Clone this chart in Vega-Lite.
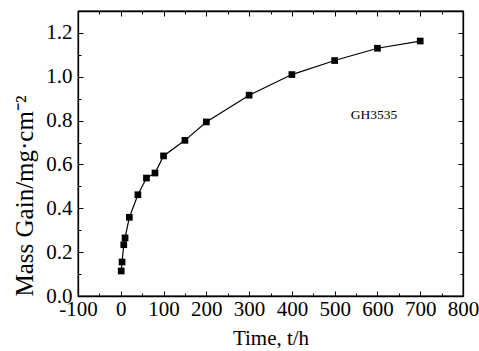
{
  "$schema": "https://vega.github.io/schema/vega-lite/v6.json",
  "width": 385,
  "height": 285,
  "autosize": "none",
  "padding": {"left": 78, "top": 11, "right": 16, "bottom": 55},
  "background": "white",
  "config": {
    "font": "Liberation Serif",
    "view": {"stroke": "black", "strokeWidth": 1.3},
    "axis": {
      "domainColor": "black",
      "domainWidth": 1.3,
      "tickColor": "black",
      "tickWidth": 1,
      "labelColor": "black",
      "labelFont": "Liberation Serif",
      "labelFontSize": 21,
      "titleFont": "Liberation Serif",
      "titleFontSize": 21,
      "titleFontWeight": "normal",
      "titleColor": "black",
      "grid": false,
      "labelOverlap": false,
      "labelFlush": false
    }
  },
  "data": {
    "values": [
      {"t": 1, "gain": 0.114},
      {"t": 3, "gain": 0.155},
      {"t": 7, "gain": 0.234},
      {"t": 10, "gain": 0.265},
      {"t": 20, "gain": 0.359},
      {"t": 40, "gain": 0.462},
      {"t": 60, "gain": 0.538},
      {"t": 80, "gain": 0.561},
      {"t": 100, "gain": 0.639},
      {"t": 150, "gain": 0.71},
      {"t": 200, "gain": 0.794},
      {"t": 300, "gain": 0.916},
      {"t": 400, "gain": 1.01},
      {"t": 500, "gain": 1.074},
      {"t": 600, "gain": 1.13},
      {"t": 700, "gain": 1.163}
    ]
  },
  "layer": [
    {
      "mark": {"type": "line", "color": "black", "strokeWidth": 1.2},
      "encoding": {
        "x": {
          "field": "t", "type": "quantitative",
          "scale": {"domain": [-100, 800], "nice": false, "zero": false},
          "axis": {
            "orient": "bottom",
            "title": "Time, t/h",
            "values": [-100, -50, 0, 50, 100, 150, 200, 250, 300, 350, 400, 450, 500, 550, 600, 650, 700, 750, 800],
            "labelExpr": "datum.value % 100 !== 0 ? '' : '' + datum.value",
            "tickSize": {"condition": {"test": "datum.value % 100 !== 0", "value": -3}, "value": -5},
            "labelPadding": 7,
            "titlePadding": 6
          }
        },
        "y": {
          "field": "gain", "type": "quantitative",
          "scale": {"domain": [0, 1.3], "nice": false},
          "axis": {
            "orient": "left",
            "title": "Mass Gain/mg·cm⁻²",
            "titleFontSize": 25,
            "titleAnchor": "start",
            "values": [0, 0.1, 0.2, 0.3, 0.4, 0.5, 0.6, 0.7, 0.8, 0.9, 1.0, 1.1, 1.2],
            "labelExpr": "round(datum.value*10) % 2 === 1 ? '' : format(datum.value, '.1f')",
            "tickSize": {"condition": {"test": "round(datum.value*10) % 2 === 1", "value": -3}, "value": -5},
            "labelPadding": 11,
            "titlePadding": 8
          }
        }
      }
    },
    {
      "mark": {"type": "point", "shape": "square", "filled": true, "color": "black", "size": 45, "opacity": 1},
      "encoding": {
        "x": {
          "field": "t", "type": "quantitative",
          "axis": {
            "orient": "top",
            "title": null,
            "labels": false,
            "values": [-100, -50, 0, 50, 100, 150, 200, 250, 300, 350, 400, 450, 500, 550, 600, 650, 700, 750, 800],
            "tickSize": {"condition": {"test": "datum.value % 100 !== 0", "value": -3}, "value": -5}
          }
        },
        "y": {
          "field": "gain", "type": "quantitative",
          "axis": {
            "orient": "right",
            "title": null,
            "labels": false,
            "values": [0, 0.1, 0.2, 0.3, 0.4, 0.5, 0.6, 0.7, 0.8, 0.9, 1.0, 1.1, 1.2],
            "tickSize": {"condition": {"test": "round(datum.value*10) % 2 === 1", "value": -3}, "value": -5}
          }
        }
      }
    },
    {
      "data": {"values": [{"lx": 592, "ly": 0.824, "label": "GH3535"}]},
      "mark": {"type": "text", "font": "Liberation Serif", "fontSize": 13.5, "color": "black", "align": "center", "baseline": "middle"},
      "encoding": {
        "x": {"field": "lx", "type": "quantitative", "axis": null},
        "y": {"field": "ly", "type": "quantitative", "axis": null},
        "text": {"field": "label"}
      }
    }
  ],
  "resolve": {"axis": {"x": "independent", "y": "independent"}}
}
